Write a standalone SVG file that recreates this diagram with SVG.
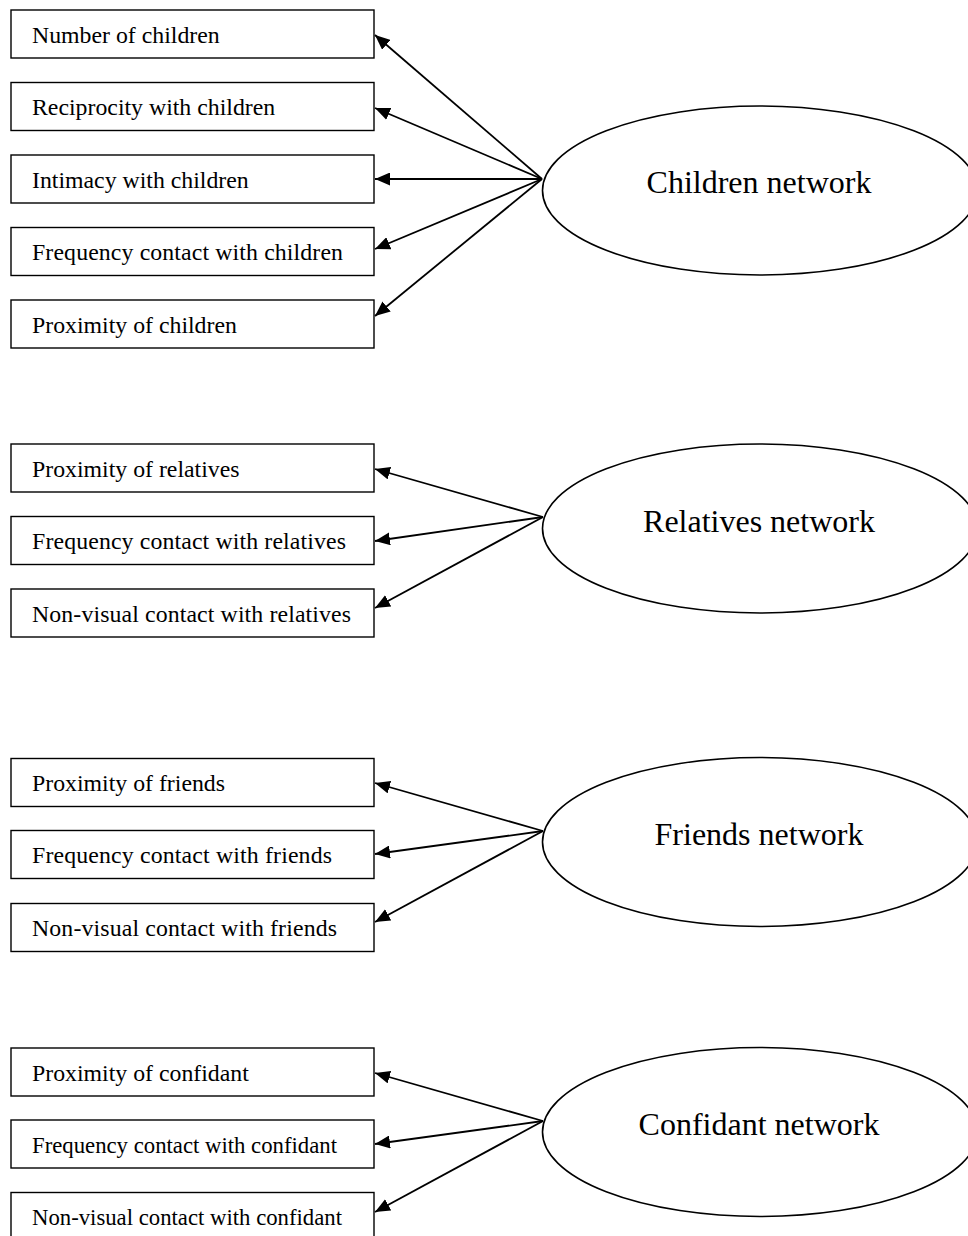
<svg xmlns="http://www.w3.org/2000/svg" width="968" height="1236" viewBox="0 0 968 1236">
  <style>
    .box { fill: #ffffff; stroke: #000000; stroke-width: 1.4; }
    .oval { fill: #ffffff; stroke: #000000; stroke-width: 1.6; }
    .lbl { font-family: "Liberation Serif", "Times New Roman", serif; font-size: 23.8px; fill: #000000; }
    .ttl { font-family: "Liberation Serif", "Times New Roman", serif; font-size: 32px; fill: #000000; text-anchor: middle; }
    .edge { stroke: #000000; stroke-width: 1.8; fill: none; marker-end: url(#arrow); }
  </style>
  <defs>
    <marker id="arrow" viewBox="0 0 15 13" refX="15" refY="6.5" markerWidth="15" markerHeight="13" markerUnits="userSpaceOnUse" orient="auto">
      <path d="M0,0 L15,6.5 L0,13 z" fill="#000000"/>
    </marker>
  </defs>
  <rect width="968" height="1236" fill="#ffffff"/>

  <!-- Children network block -->
  <g id="n-number-children"><rect class="box" x="11" y="10" width="363" height="48"/><text class="lbl" x="32" y="42.5">Number of children</text></g>
  <g id="n-reciprocity-children"><rect class="box" x="11" y="82.5" width="363" height="48"/><text class="lbl" x="32" y="115">Reciprocity with children</text></g>
  <g id="n-intimacy-children"><rect class="box" x="11" y="155" width="363" height="48"/><text class="lbl" x="32" y="187.5">Intimacy with children</text></g>
  <g id="n-frequency-children"><rect class="box" x="11" y="227.5" width="363" height="48"/><text class="lbl" x="32" y="260" textLength="311" lengthAdjust="spacing">Frequency contact with children</text></g>
  <g id="n-proximity-children"><rect class="box" x="11" y="300" width="363" height="48"/><text class="lbl" x="32" y="332.5">Proximity of children</text></g>
  <g id="n-children-network"><ellipse class="oval" cx="760" cy="190.5" rx="217.5" ry="84.5"/><text class="ttl" x="759" y="193">Children network</text></g>

  <!-- Relatives network block -->
  <g id="n-proximity-relatives"><rect class="box" x="11" y="444" width="363" height="48"/><text class="lbl" x="32" y="476.5">Proximity of relatives</text></g>
  <g id="n-frequency-relatives"><rect class="box" x="11" y="516.5" width="363" height="48"/><text class="lbl" x="32" y="549" textLength="314" lengthAdjust="spacing">Frequency contact with relatives</text></g>
  <g id="n-nonvisual-relatives"><rect class="box" x="11" y="589" width="363" height="48"/><text class="lbl" x="32" y="621.5" textLength="319" lengthAdjust="spacing">Non-visual contact with relatives</text></g>
  <g id="n-relatives-network"><ellipse class="oval" cx="760" cy="528.5" rx="217.5" ry="84.5"/><text class="ttl" x="759" y="532">Relatives network</text></g>

  <!-- Friends network block -->
  <g id="n-proximity-friends"><rect class="box" x="11" y="758.5" width="363" height="48"/><text class="lbl" x="32" y="791">Proximity of friends</text></g>
  <g id="n-frequency-friends"><rect class="box" x="11" y="830.5" width="363" height="48"/><text class="lbl" x="32" y="863" textLength="300" lengthAdjust="spacing">Frequency contact with friends</text></g>
  <g id="n-nonvisual-friends"><rect class="box" x="11" y="903.5" width="363" height="48"/><text class="lbl" x="32" y="936" textLength="305" lengthAdjust="spacing">Non-visual contact with friends</text></g>
  <g id="n-friends-network"><ellipse class="oval" cx="760" cy="842" rx="217.5" ry="84.5"/><text class="ttl" x="759" y="845">Friends network</text></g>

  <!-- Confidant network block -->
  <g id="n-proximity-confidant"><rect class="box" x="11" y="1048" width="363" height="48"/><text class="lbl" x="32" y="1080.5">Proximity of confidant</text></g>
  <g id="n-frequency-confidant"><rect class="box" x="11" y="1120" width="363" height="48"/><text class="lbl" x="32" y="1152.5" textLength="305" lengthAdjust="spacingAndGlyphs">Frequency contact with confidant</text></g>
  <g id="n-nonvisual-confidant"><rect class="box" x="11" y="1192.5" width="363" height="48"/><text class="lbl" x="32" y="1225" textLength="310" lengthAdjust="spacingAndGlyphs">Non-visual contact with confidant</text></g>
  <g id="n-confidant-network"><ellipse class="oval" cx="760" cy="1132" rx="217.5" ry="84.5"/><text class="ttl" x="759" y="1135">Confidant network</text></g>

  <!-- Loadings: each latent network points to its indicators -->
  <g id="connectors">
    <line class="edge" x1="542" y1="179" x2="375" y2="35"/>
    <line class="edge" x1="542" y1="179" x2="375" y2="108"/>
    <line class="edge" x1="542" y1="179" x2="375" y2="179"/>
    <line class="edge" x1="542" y1="179" x2="375" y2="249"/>
    <line class="edge" x1="542" y1="179" x2="375" y2="316"/>

    <line class="edge" x1="543" y1="517" x2="375" y2="469"/>
    <line class="edge" x1="543" y1="517" x2="375" y2="541"/>
    <line class="edge" x1="543" y1="517" x2="375" y2="608"/>

    <line class="edge" x1="543" y1="831" x2="375" y2="783"/>
    <line class="edge" x1="543" y1="831" x2="375" y2="854"/>
    <line class="edge" x1="543" y1="831" x2="375" y2="922"/>

    <line class="edge" x1="543" y1="1121" x2="375" y2="1073"/>
    <line class="edge" x1="543" y1="1121" x2="375" y2="1144"/>
    <line class="edge" x1="543" y1="1121" x2="375" y2="1212"/>
  </g>
</svg>
